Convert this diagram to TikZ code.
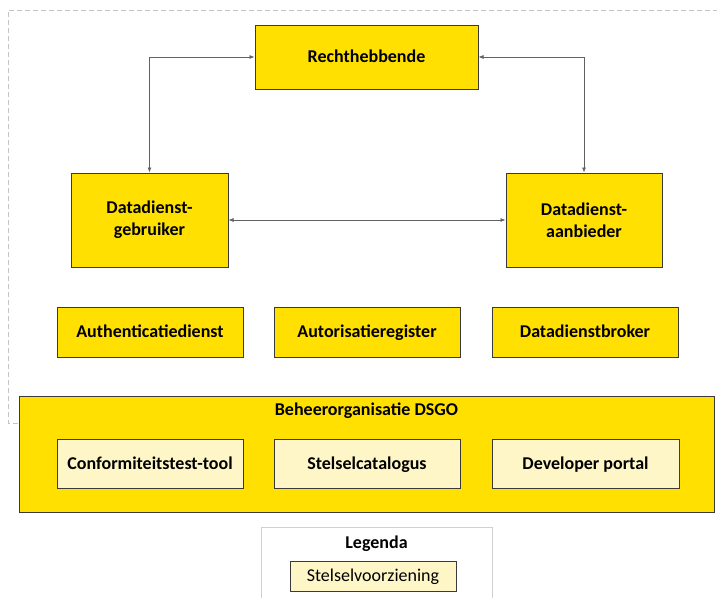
\documentclass[tikz,border=0pt]{standalone}
\usepackage{fontspec}
\setmainfont{Carlito}
\usetikzlibrary{arrows.meta}
\definecolor{dsgoyellow}{HTML}{FFE000}
\definecolor{dsgolight}{HTML}{FFF6C8}
\definecolor{boxline}{HTML}{3A3A3A}
\definecolor{frameline}{HTML}{C4C4C4}
\tikzset{
  boxfont/.style={font=\fontsize{18}{22}\selectfont\bfseries},
  oneline/.style={text height=15pt, text depth=3.5pt},
  mainbox/.style={draw=boxline, line width=1pt, fill=dsgoyellow, inner sep=0pt,
    boxfont, align=center},
  facility/.style={draw=boxline, line width=1pt, fill=dsgolight, inner sep=0pt,
    boxfont, align=center},
  link/.style={draw=boxline!80, line width=0.7pt, {Latex[length=5pt,width=4pt]}-{Latex[length=5pt,width=4pt]}},
}
\begin{document}
\begin{tikzpicture}[x=1pt, y=-1pt]
\useasboundingbox (0,0) rectangle (717,597);
\fill[white] (0,0) rectangle (717,597);

% dashed frame around the participants
\draw[frameline, dashed, dash pattern=on 5pt off 3pt, line width=0.8pt]
  (718,10) -- (8,10) -- (8,423) -- (718,423);

% participants
\node[mainbox, oneline, minimum width=223pt, minimum height=64pt] (recht) at (366.5,57) {Rechthebbende};
\node[mainbox, minimum width=157pt, minimum height=94pt] (gebr) at (149.5,220) {Datadienst-\\gebruiker};
\node[mainbox, minimum width=156pt, minimum height=94pt] (aanb) at (584,220) {Datadienst-\\aanbieder};

% services
\node[mainbox, oneline, minimum width=186pt, minimum height=50pt] (auth) at (150,332) {Authenticatiedienst};
\node[mainbox, oneline, minimum width=186pt, minimum height=50pt] (autor) at (367,332) {Autorisatieregister};
\node[mainbox, oneline, minimum width=186pt, minimum height=50pt] (broker) at (585,332) {Datadienstbroker};

% management organisation with its facilities
\node[mainbox, minimum width=695pt, minimum height=116pt] (beheer) at (366.5,454) {};
\node[boxfont, oneline] (beheertitle) at (366.5,410) {Beheerorganisatie DSGO};
\node[facility, oneline, minimum width=186pt, minimum height=49pt] (conf) at (150,463.5) {Conformiteitstest-tool};
\node[facility, oneline, minimum width=186pt, minimum height=49pt] (cat) at (367,463.5) {Stelselcatalogus};
\node[facility, oneline, minimum width=187pt, minimum height=49pt] (portal) at (585.5,463.5) {Developer portal};

% legend
\draw[frameline!80, line width=0.8pt] (261,600) -- (261,527) -- (492,527) -- (492,600);
\node[boxfont, oneline] (legtitle) at (376.5,543) {Legenda};
\node[facility, oneline, font=\fontsize{18}{22}\selectfont, minimum width=166pt, minimum height=30pt] (legitem) at (373,576) {Stelselvoorziening};

% relations
\draw[link] (gebr.north) -- (gebr.north |- recht.west) -- (recht.west);
\draw[link] (recht.east) -- (aanb.north |- recht.east) -- (aanb.north);
\draw[link] (gebr.east) -- (aanb.west);
\end{tikzpicture}
\end{document}
